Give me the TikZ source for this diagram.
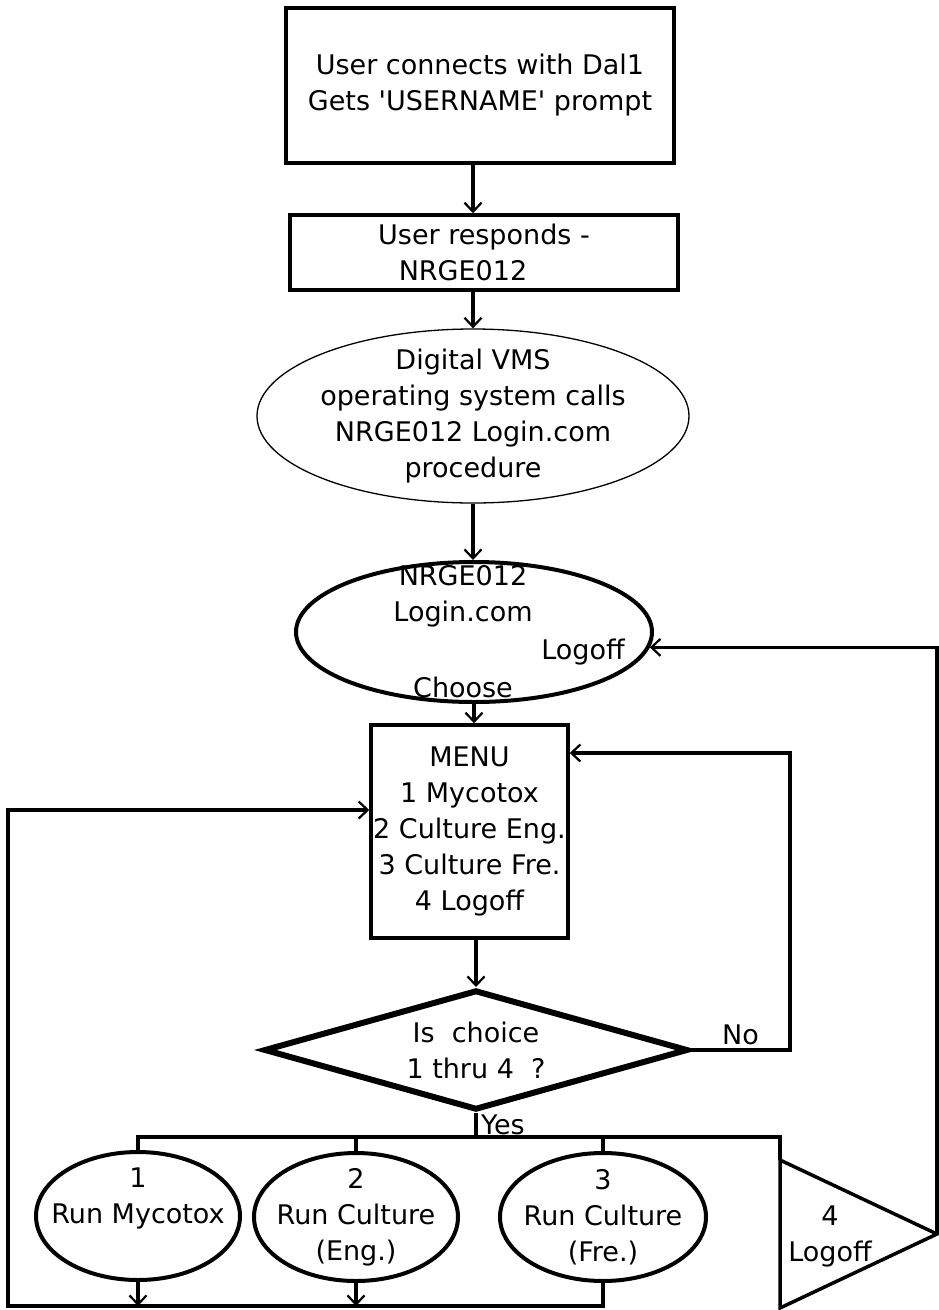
\documentclass[tikz,border=0pt]{standalone}
\usepackage{fontspec}
\setmainfont{DejaVu Sans}[Ligatures=TeXOff]
\usetikzlibrary{shapes.geometric,arrows.meta}

\begin{document}
\begin{tikzpicture}[x=1pt,y=-1pt,line width=3.5pt,
        >={Straight Barb[length=9pt,width=17pt,line width=2.2pt]},
        font=\fontsize{27}{36}\selectfont,
        every node/.style={align=center},
        box/.style={draw,rectangle,inner sep=0pt},
        oval/.style={draw,ellipse,inner sep=0pt,line width=4pt},
        test/.style={draw,diamond,inner sep=0pt,line width=6pt}]
    \useasboundingbox (0,0) rectangle (939,1310);

    \node[box,minimum width=388,minimum height=155] (connect) at (480,85.5)
        {User connects with Dal1\\Gets 'USERNAME' prompt};
    \node[box,minimum width=388,minimum height=75] (respond) at (484,252.5)
        {User responds -\\NRGE012\hspace*{42pt}};
    \node[oval,line width=1.3pt,minimum width=432,minimum height=174,
        label={center:Digital VMS\\operating system calls\\NRGE012 Login.com\\procedure}] (vms) at (473,416) {};
    \node[oval,minimum width=356,minimum height=140,
        label={[xshift=-11pt,yshift=36pt]center:NRGE012\\Login.com}] (login) at (474,632) {};
    \node (logofftag) at (583,652) {Logoff};
    \node (choosetag) at (463,687) {Choose};
    \node[box,minimum width=197,minimum height=213] (menu) at (469.5,831.5)
        {MENU\\1 Mycotox\\2 Culture Eng.\\3 Culture Fre.\\4 Logoff};
    \node[test,minimum width=424,minimum height=120,
        label={center:Is\ \ choice\\1 thru 4\ \ ?}] (choice) at (476,1050) {};

    \node[oval,minimum width=204,minimum height=128,
        label={[yshift=18pt]center:1\\Run Mycotox}] (mycotox) at (138,1216) {};
    \node[oval,minimum width=204,minimum height=128,
        label={center:2\\Run Culture\\(Eng.)}] (cultureeng) at (356,1217) {};
    \node[oval,minimum width=206,minimum height=128,
        label={center:3\\Run Culture\\(Fre.)}] (culturefre) at (603,1217) {};

    \coordinate (tritop) at (780,1160);
    \coordinate (tritip) at (937,1234);
    \coordinate (tribot) at (780,1308);
    \draw (tritop) -- (tritip) -- (tribot) -- cycle;
    \node (quit) at (830,1236) {4\\Logoff};

    \coordinate (noturn) at (790,753);
    \coordinate (fork) at (476,1137);
    \coordinate (sink) at (8,1306);
    \coordinate (back) at (8,810);

    \draw[->] (connect.south -| vms) -- (respond.north -| vms);
    \draw[->] (respond.south -| vms) -- (vms.north);
    \draw[->] (vms.south) -- (vms.south |- login.north);
    \draw[->] (login.south) -- (login.south |- menu.north);
    \draw[->] (menu.south -| choice) -- (choice.north);
    \draw[->] (choice.east) -- node[above] {No} (choice.east -| noturn) -- (noturn) -- (noturn -| menu.east);
    \draw[->] (tritip) |- (login.-5.3);

    \draw (choice.south) -- node[right] {Yes} (fork);
    \draw (mycotox.north) |- (fork) -- (fork -| tritop) -- (tritop);
    \draw (cultureeng.north) -- (cultureeng.north |- fork);
    \draw (culturefre.north) -- (culturefre.north |- fork);

    \draw[->] (mycotox.south) -- (mycotox.south |- sink);
    \draw[->] (cultureeng.south) -- (cultureeng.south |- sink);
    \draw[->] (culturefre.south) -- (culturefre.south |- sink) -- (sink) -- (back) -- (back -| menu.west);
\end{tikzpicture}
\end{document}
